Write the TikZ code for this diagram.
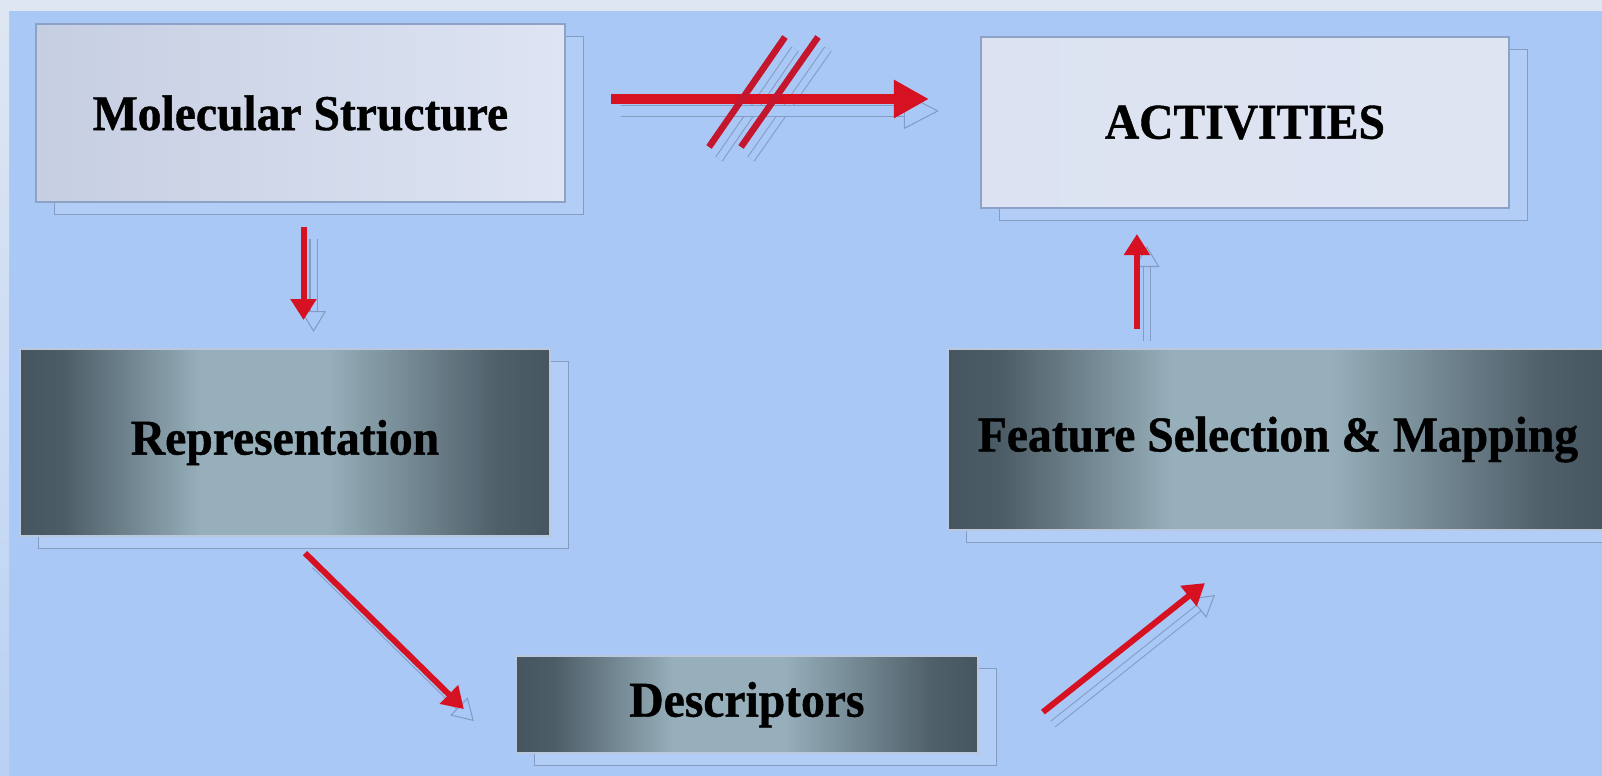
\documentclass[tikz,border=0pt]{standalone}
\usepackage{fontspec}
\setmainfont[FakeStretch=0.95,FakeBold=0.8]{Liberation Serif}
\usetikzlibrary{arrows.meta,calc,positioning}
\definecolor{bgblue}{RGB}{170,200,245}
\definecolor{edgeblue}{RGB}{222,230,243}
\definecolor{paleleft}{RGB}{198,206,226}
\definecolor{paleright}{RGB}{222,228,242}
\definecolor{slatedark}{RGB}{70,85,95}
\definecolor{slatelight}{RGB}{150,175,186}
\definecolor{frameblue}{RGB}{140,162,198}
\definecolor{shadeline}{RGB}{132,156,194}
\definecolor{shadefill}{RGB}{178,206,246}
\definecolor{arrowred}{RGB}{214,18,34}
\definecolor{slashred}{RGB}{196,22,44}
% the path spans 25bp--75bp of a shading
\pgfdeclarehorizontalshading{slateband}{100bp}{
    color(0bp)=(slatedark);
    color(25bp)=(slatedark);
    color(29bp)=(slatedark!92!slatelight);
    color(42bp)=(slatelight);
    color(54bp)=(slatelight);
    color(70bp)=(slatedark!88!slatelight);
    color(75bp)=(slatedark);
    color(100bp)=(slatedark)}
\tikzset{
    box/.style ={
        shape=rectangle,
        inner sep=0pt,
        draw=frameblue,
        line width=1.2pt,
        font=\bfseries\fontsize{28.5}{34}\selectfont,
        preaction={
            fill=shadefill,
            draw=shadeline,
            line width=0.8pt,
            transform canvas={shift={(0.37cm,-0.25cm)}}
        }
    },
    pale/.style ={
        box,
        left color=paleleft,
        right color=paleright
    },
    slate/.style ={
        box,
        draw=frameblue!60!white,
        shading=slateband
    },
    flowshade/.style ={
        draw=shadeline,
        line width=0.6pt,
        double=bgblue,
        double distance=#1,
        transform canvas={shift={(0.2cm,-0.24cm)}}
    },
    flow/.style ={
        preaction={flowshade=0.12cm,
            -{Triangle[open,line width=0.6pt,length=0.42cm,width=0.5cm]}},
        draw=arrowred,
        line width=0.12cm,
        -{Triangle[length=0.42cm,width=0.5cm]}
    },
    bigflow/.style ={
        preaction={flowshade=0.2cm,
            -{Triangle[open,line width=0.6pt,length=0.7cm,width=0.72cm]}},
        draw=arrowred,
        line width=0.2cm,
        -{Triangle[length=0.7cm,width=0.72cm]}
    },
    slash/.style ={
        draw=slashred,
        line width=0.13cm
    }
}
\begin{document}
\begin{tikzpicture}[x=0.02cm,y=-0.02cm]
    \useasboundingbox (0,0) rectangle (1602,776);
    % background
    \fill[bgblue] (0,0) rectangle (1602,776);
    \fill[edgeblue] (0,0) rectangle (1602,11);
    \shade[top color=edgeblue,bottom color=bgblue!70!edgeblue] (0,11) rectangle (9,776);

    % boxes
    \node[pale,minimum width=10.58cm,minimum height=3.56cm] (ms) at (300.5,113) {Molecular Structure};
    \node[pale,left color=paleright!92!paleleft,minimum width=10.56cm,minimum height=3.42cm,
        right=8.28cm of ms,yshift=-0.19cm] (act) {ACTIVITIES};
    \node[slate,minimum width=10.6cm,minimum height=3.74cm,
        below=2.9cm of ms,xshift=-0.31cm] (rep) {Representation};
    \node[slate,minimum width=9.24cm,minimum height=1.94cm,
        below=2.36cm of rep,xshift=9.24cm] (desc) {Descriptors};
    \node[slate,minimum width=13.2cm,minimum height=3.62cm,
        below=2.78cm of act,xshift=0.66cm] (feat) {Feature Selection \& Mapping};

    % arrows
    \draw[flow] ($(ms.south)+(3,24)$) -- ($(ms.south |- rep.north)+(3,-28)$);
    \draw[flow] ($(rep.south)+(20,16)$) -- ($(desc.west)+(-51,4.5)$);
    \draw[flow] ($(desc.east)+(64,7.5)$) -- ($(feat.south)+(-73,52)$);
    \draw[flow] ($(feat.north)+(-141,-19)$) -- ($(act.south -| feat.north)+(-141,25)$);

    % no direct way from structure to activities
    \draw[flowshade=0.13cm] ($(ms.east)+(143,34)$) -- ++(76,-110);
    \draw[flowshade=0.13cm] ($(ms.east)+(175,34)$) -- ++(77,-110);
    \draw[bigflow] ($(ms.east)+(45,-14)$) -- ($(act.west |- ms.east)+(-51,-14)$);
    \draw[slash] ($(ms.east)+(143,34)$) -- ++(76,-110);
    \draw[slash] ($(ms.east)+(175,34)$) -- ++(77,-110);
\end{tikzpicture}
\end{document}
